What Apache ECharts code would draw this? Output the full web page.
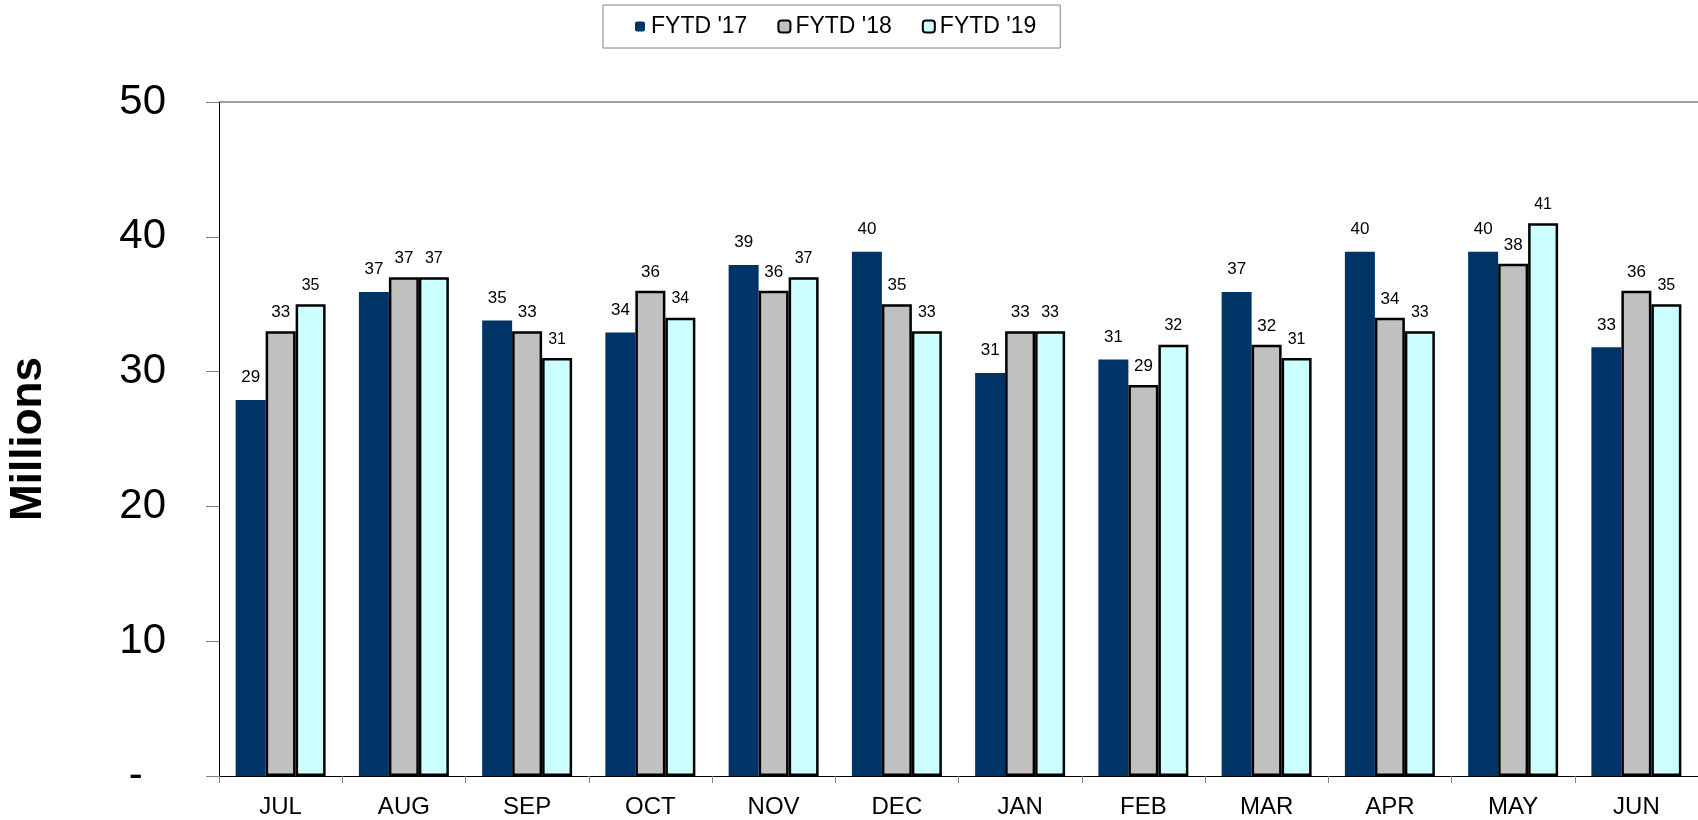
<!DOCTYPE html>
<html>
<head>
<meta charset="utf-8">
<script src="https://cdn.jsdelivr.net/npm/echarts@6/dist/echarts.min.js"></script>
<style>
html,body{margin:0;padding:0;background:#fff;}
#chart{width:1698px;height:820px;}
</style>
</head>
<body>
<div id="chart"></div>
<script>
var categories = ['JUL','AUG','SEP','OCT','NOV','DEC','JAN','FEB','MAR','APR','MAY','JUN'];
var seriesNames = ["FYTD '17", "FYTD '18", "FYTD '19"];
// bar heights as drawn
var fy17 = [27.9, 35.9, 33.8, 32.9, 37.9, 38.9, 29.9, 30.9, 35.9, 38.9, 38.9, 31.8];
// value labels as printed
var fy17Labels = [29, 37, 35, 34, 39, 40, 31, 31, 37, 40, 40, 33];
var fy18 = [33, 37, 33, 36, 36, 35, 33, 29, 32, 34, 38, 36];
var fy19 = [35, 37, 31, 34, 37, 33, 33, 32, 31, 33, 41, 35];
var yTicks = [0, 10, 20, 30, 40, 50];

var FONT = '"Liberation Sans", Arial, sans-serif';
var chart = echarts.init(document.getElementById('chart'));
chart.setOption({
  animation: false,
  backgroundColor: '#fff',
  textStyle: {fontFamily: FONT},
  legend: {
    top: 5,
    left: 603,
    padding: [10, 24, 10, 30],
    itemGap: 30,
    itemWidth: 12,
    itemHeight: 12,
    borderColor: '#808080',
    borderWidth: 1,
    textStyle: {fontFamily: FONT, fontSize: 23, color: '#000'},
    data: [
      {name: seriesNames[0], itemStyle: {borderColor: '#fff', borderWidth: 2}},
      {name: seriesNames[1]},
      {name: seriesNames[2]}
    ]
  },
  grid: {left: 219, right: 0, top: 102, bottom: 44, outerBoundsMode: 'none', containLabel: false},
  xAxis: [{
    type: 'category',
    data: categories,
    axisLine: {lineStyle: {color: '#000', width: 1}},
    axisTick: {show: true, length: 7, lineStyle: {color: '#808080'}},
    axisLabel: {color: '#000', fontSize: 24, fontFamily: FONT, margin: 19}
  }, {
    type: 'category',
    position: 'top',
    data: categories,
    axisLine: {show: true, lineStyle: {color: '#808080', width: 1.5}},
    axisTick: {show: false},
    axisLabel: {show: false}
  }],
  yAxis: {
    type: 'value',
    min: yTicks[0],
    max: yTicks[yTicks.length - 1],
    interval: 10,
    name: 'Millions',
    nameLocation: 'middle',
    nameGap: 168,
    nameTextStyle: {fontFamily: FONT, fontSize: 44, fontWeight: 'bold', color: '#000'},
    axisLine: {show: true, lineStyle: {color: '#000', width: 1}},
    axisTick: {show: true, length: 13, lineStyle: {color: '#808080'}},
    splitLine: {show: false},
    axisLabel: {
      color: '#000', fontSize: 42, fontFamily: FONT, margin: 53,
      formatter: function (v) { return v === 0 ? '-  ' : String(v); }
    }
  },
  series: [{
    name: seriesNames[0],
    type: 'bar',
    data: fy17,
    barGap: '0%',
    barCategoryGap: '27%',
    itemStyle: {color: '#003366'},
    label: {
      show: true, position: 'top', distance: 14,
      fontSize: 17, color: '#000', fontFamily: FONT,
      formatter: function (p) { return String(fy17Labels[p.dataIndex]); }
    }
  }, {
    name: seriesNames[1],
    type: 'bar',
    data: fy18,
    barGap: '0%',
    barCategoryGap: '27%',
    itemStyle: {color: '#C0C0C0', borderColor: '#000', borderWidth: 2.5},
    label: {show: true, position: 'top', distance: 10, fontSize: 17, color: '#000', fontFamily: FONT}
  }, {
    name: seriesNames[2],
    type: 'bar',
    data: fy19,
    barGap: '0%',
    barCategoryGap: '27%',
    itemStyle: {color: '#CCFFFF', borderColor: '#000', borderWidth: 2.5},
    label: {show: true, position: 'top', distance: 11, fontSize: 16, color: '#000', fontFamily: FONT}
  }]
});
</script>
</body>
</html>
